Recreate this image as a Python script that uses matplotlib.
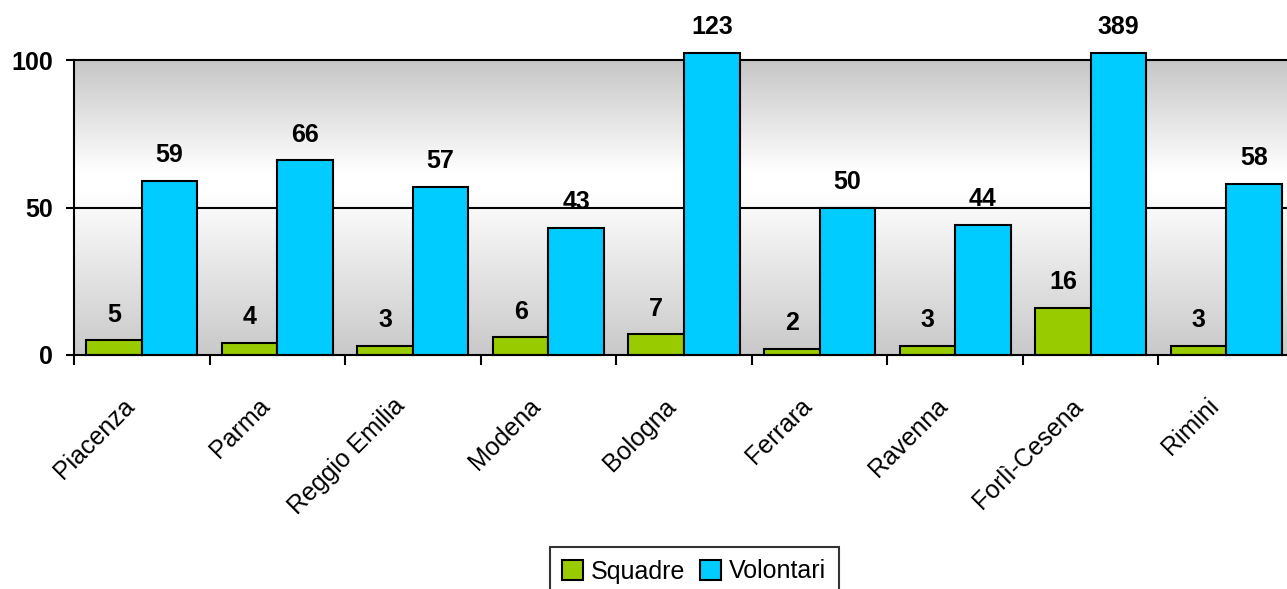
import matplotlib
matplotlib.use('Agg')
import matplotlib.pyplot as plt
import numpy as np
from matplotlib.colors import LinearSegmentedColormap
from matplotlib.patches import Patch
from matplotlib.transforms import ScaledTranslation

categories = ['Piacenza', 'Parma', 'Reggio Emilia', 'Modena', 'Bologna',
              'Ferrara', 'Ravenna', 'Forlì-Cesena', 'Rimini']
squadre = [5, 4, 3, 6, 7, 2, 3, 16, 3]
volontari = [59, 66, 57, 43, 123, 50, 44, 389, 58]
series_names = ['Squadre', 'Volontari']
yticks = [0, 50, 100]

plt.rcParams['font.family'] = ['Liberation Sans', 'DejaVu Sans']

W, H = 1287, 589
fig = plt.figure(figsize=(W / 100, H / 100), dpi=100)
ax = fig.add_axes([74 / W, (H - 355) / H, 1220 / W, 295 / H])

ymax = 100
cap = 102.4  # bars exceeding the axis are cut just above the top line
n = len(categories)
x = np.arange(n)
w = 0.41
LW = 1.5

cmap = LinearSegmentedColormap.from_list(
    'bg', [(0.0, '#c9c9c9'), (0.55, '#ffffff'), (0.62, '#ffffff'), (1.0, '#c6c6c6')])
ax.imshow(np.linspace(0, 1, 256).reshape(-1, 1), extent=[-0.5, n - 0.5, 0, ymax],
          origin='lower', aspect='auto', cmap=cmap, zorder=0, interpolation='bicubic')

for yv in yticks[1:]:
    ax.axhline(yv, color='black', lw=LW, zorder=1, clip_on=False)

colors = ['#99CC00', '#00CCFF']
for k, (vals, col) in enumerate(zip([squadre, volontari], colors)):
    xs = x + (k - 0.5) * w
    hs = np.minimum(vals, cap)
    ax.bar(xs, hs, w, color=col, edgecolor='black', linewidth=LW,
           clip_on=False, zorder=3)
    for xi, hi, v in zip(xs, hs, vals):
        ax.annotate(str(v), (xi, hi), xytext=(0, 13.5), textcoords='offset points',
                    ha='center', va='baseline', fontsize=18, fontweight='bold',
                    annotation_clip=False, zorder=5)

ax.set_xlim(-0.5, n - 0.5)
ax.set_ylim(0, ymax)
ax.set_yticks(yticks)
ax.set_yticklabels([str(t) for t in yticks], fontsize=18, fontweight='bold')
ax.tick_params(axis='y', length=5.8, width=LW, direction='out', pad=9.4)

ax.set_xticks(x)
ax.set_xticklabels(categories, rotation=45, ha='right', rotation_mode='anchor', fontsize=18)
ax.tick_params(axis='x', which='major', length=0, pad=28)
shift = ScaledTranslation(-20 / 100, 0, fig.dpi_scale_trans)
for lab in ax.get_xticklabels():
    lab.set_transform(lab.get_transform() + shift)
ax.set_xticks(np.arange(-0.5, n, 1.0), minor=True)
ax.tick_params(axis='x', which='minor', length=7.2, width=LW, direction='out')

for s in ['top', 'right']:
    ax.spines[s].set_visible(False)
for s in ['left', 'bottom']:
    ax.spines[s].set_linewidth(LW)
    ax.spines[s].set_zorder(4)

handles = [Patch(facecolor=c, edgecolor='black', linewidth=LW) for c in colors]
leg = fig.legend(handles, series_names, loc='upper center',
                 bbox_to_anchor=(694 / W, 1 - 547 / H), ncol=2, fontsize=18,
                 frameon=True, fancybox=False, edgecolor='black',
                 handlelength=0.85, handleheight=0.85, handletextpad=0.3,
                 columnspacing=0.6, borderpad=0.5, borderaxespad=0)
leg.get_frame().set_linewidth(LW)

fig.savefig('out.png', dpi=100)
